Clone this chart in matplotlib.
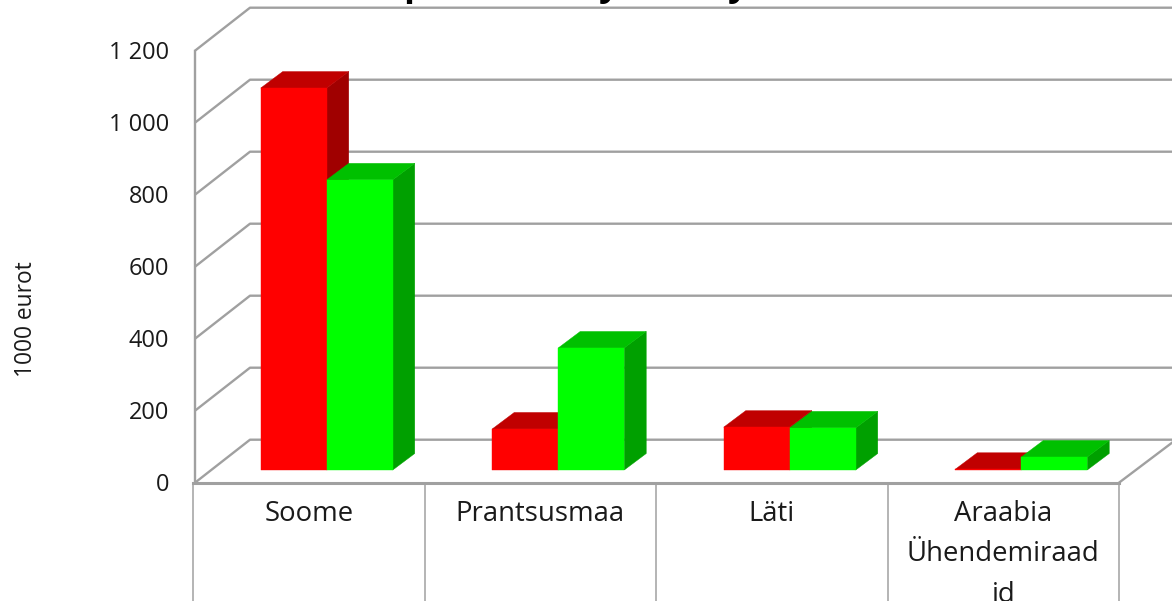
import matplotlib
matplotlib.use("Agg")
import matplotlib.pyplot as plt
from matplotlib.patches import Polygon

plt.rcParams['font.family'] = ['Open Sans', 'DejaVu Sans']

categories = ["Soome", "Prantsusmaa", "Läti", "Araabia\nÜhendemiraad\nid"]
series_red = [1061, 114, 119, 2]
series_green = [806, 339, 117, 36]
y_ticks = [0, 200, 400, 600, 800, 1000, 1200]
y_labels = ["0", "200", "400", "600", "800", "1 000", "1 200"]
y_title = "1000 eurot"
title_glyphs = ["p", "y", "y"]          # only the descenders survive the crop at the top
title_glyph_px = [415, 609, 738]

W, H = 1172, 601
CAT_W = 231.5      # px per category
X0 = 193.0         # px left of first category
Y0 = 482.7         # px of value 0
PPU = 0.36         # px per value unit

fig = plt.figure(figsize=(W / 100, H / 100), dpi=100, facecolor="white")
ax = fig.add_axes([0, 0, 1, 1])
ax.set_xlim((0 - X0) / CAT_W, (W - X0) / CAT_W)
ax.set_ylim((Y0 - H) / PPU, Y0 / PPU)
ax.axis("off")

dxpx = lambda p: p / CAT_W
dypx = lambda p: p / PPU

GRID = "#a0a0a0"
LW = 1.7

wall_dx, wall_dy = dxpx(57), dypx(43)
n = len(categories)

# gridlines: diagonal on side wall + horizontal on back wall
for v in y_ticks:
    ax.plot([dxpx(2), wall_dx, n + wall_dx + 1], [v, v + wall_dy, v + wall_dy],
            color=GRID, lw=LW, solid_capstyle="butt", zorder=1)
# left axis
ax.plot([dxpx(2), dxpx(2)], [0, 1200], color=GRID, lw=LW, zorder=1)
# floor front and separators
ax.plot([0, n], [0, 0], color=GRID, lw=2.2, zorder=2)
ax.plot([n, n + wall_dx], [0, wall_dy], color=GRID, lw=LW, zorder=1)
for i in range(n + 1):
    ax.plot([i, i], [0, (Y0 - H) / PPU], color="#b4b4b4", lw=1.4, zorder=1)


def bar3d(x0, x1, v, front, top, side, z):
    base = dypx(12.7)
    ddx, ddy = dxpx(22), dypx(16.5)
    ax.add_patch(Polygon([(x1, base), (x1 + ddx, base + ddy), (x1 + ddx, base + v + ddy), (x1, base + v)],
                         fc=side, ec=side, lw=0.3, zorder=z))
    ax.add_patch(Polygon([(x0, base + v), (x0 + ddx, base + v + ddy), (x1 + ddx, base + v + ddy), (x1, base + v)],
                         fc=top, ec=top, lw=0.3, zorder=z))
    ax.add_patch(Polygon([(x0, base), (x1, base), (x1, base + v), (x0, base + v)],
                         fc=front, ec=front, lw=0.3, zorder=z + 0.1))


bar_w = dxpx(66)
for i in range(n):
    c = i + 0.5 + dxpx(18)
    bar3d(c - bar_w, c, series_red[i], "#ff0000", "#c00000", "#a00000", 3 + i)
    bar3d(c, c + bar_w, series_green[i], "#00ff00", "#00c000", "#00a000", 3.5 + i)

# tick labels
for v, lab in zip(y_ticks, y_labels):
    ax.text(dxpx(-24), v - dypx(2.5), lab, ha="right", va="center", fontsize=17, color="#1a1a1a")
# category labels
for i, cat in enumerate(categories):
    ax.text(i + 0.5, dypx(-17), cat, ha="center", va="top", fontsize=19.8,
            color="#1a1a1a", linespacing=1.6)
# y title
ax.text(dxpx(-167), (Y0 - 319) / PPU, y_title, rotation=90, ha="center", va="center",
        fontsize=16.4, color="#1a1a1a")
# cropped title: only descenders are visible
for g, px in zip(title_glyphs, title_glyph_px):
    ax.text((px - X0) / CAT_W, dypx(Y0 + 5), g, ha="center", va="baseline",
            fontsize=26, fontweight="bold", color="black")

fig.savefig("out.png", dpi=100)
